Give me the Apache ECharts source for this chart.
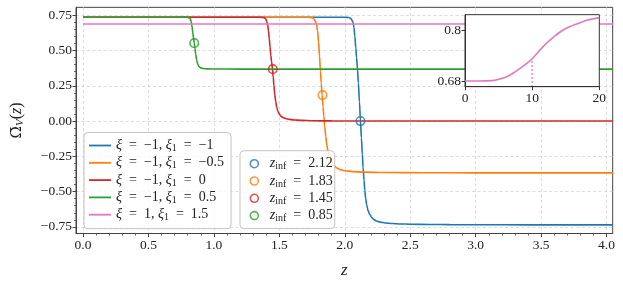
<!DOCTYPE html>
<html><head><meta charset="utf-8">
<script src="https://cdn.jsdelivr.net/npm/echarts@6/dist/echarts.min.js"></script>
<style>html,body{margin:0;padding:0;background:#fff}#c{width:623px;height:286px}</style>
</head><body><div id="c"></div>
<script>
// ---------- data ----------
const zBlue = [0, 2.00, 2.03, 2.045, 2.055, 2.063, 2.07, 2.077, 2.084, 2.09, 2.097, 2.104, 2.112, 2.12, 2.127, 2.134, 2.14, 2.147, 2.153, 2.16, 2.168, 2.178, 2.19, 2.205, 2.22, 2.242, 2.27, 2.31, 2.36, 2.43, 2.5, 2.65, 2.8, 3.2, 3.6, 4.05];
const omegaBlue = [0.736, 0.736, 0.734, 0.727, 0.716, 0.70, 0.665, 0.60, 0.52, 0.45, 0.37, 0.27, 0.135, 0.0, -0.12, -0.235, -0.33, -0.42, -0.49, -0.55, -0.595, -0.635, -0.66, -0.683, -0.697, -0.708, -0.716, -0.722, -0.726, -0.729, -0.731, -0.733, -0.734, -0.735, -0.736, -0.736];

const zOrange = [0, 1.72, 1.75, 1.765, 1.775, 1.784, 1.792, 1.80, 1.807, 1.814, 1.82, 1.827, 1.834, 1.84, 1.847, 1.855, 1.863, 1.873, 1.885, 1.90, 1.92, 1.94, 1.965, 2.0, 2.06, 2.15, 2.3, 2.6, 3.0, 4.05];
const omegaOrange = [0.736, 0.736, 0.733, 0.723, 0.708, 0.685, 0.64, 0.56, 0.46, 0.355, 0.27, 0.184, 0.10, 0.035, -0.04, -0.11, -0.17, -0.22, -0.26, -0.293, -0.318, -0.333, -0.344, -0.352, -0.358, -0.362, -0.365, -0.366, -0.367, -0.367];

const zRed = [0, 1.36, 1.385, 1.396, 1.404, 1.411, 1.417, 1.423, 1.429, 1.435, 1.441, 1.447, 1.453, 1.459, 1.465, 1.472, 1.48, 1.489, 1.499, 1.512, 1.528, 1.548, 1.575, 1.615, 1.67, 1.76, 1.9, 2.3, 4.05];
const omegaRed = [0.736, 0.736, 0.733, 0.724, 0.706, 0.68, 0.64, 0.585, 0.525, 0.465, 0.42, 0.375, 0.315, 0.25, 0.19, 0.14, 0.1, 0.07, 0.05, 0.035, 0.025, 0.018, 0.012, 0.008, 0.005, 0.002, 0.001, 0.0, 0.0];

const zGreen = [0, 0.79, 0.81, 0.82, 0.827, 0.833, 0.839, 0.845, 0.85, 0.855, 0.861, 0.868, 0.876, 0.886, 0.9, 0.92, 0.95, 1.0, 1.2, 4.05];
const omegaGreen = [0.736, 0.736, 0.733, 0.724, 0.705, 0.67, 0.625, 0.585, 0.552, 0.515, 0.475, 0.435, 0.405, 0.387, 0.377, 0.372, 0.370, 0.369, 0.368, 0.368];

const zPink = [0, 4.05];
const omegaPink = [0.688, 0.688];

const zInf = [2.12, 1.83, 1.45, 0.85];
const omegaInf = [0.0, 0.184, 0.368, 0.552];
const zInfLabels = ['2.12', '1.83', '1.45', '0.85'];

const xiLabels = ['\u22121', '\u22121', '\u22121', '\u22121', '1'];
const xi1Labels = ['\u22121', '\u22120.5', '0', '0.5', '1.5'];

const insetX = [0, 2, 4, 5.2, 6.2, 7.2, 8.2, 9.2, 10, 11, 12, 13, 14, 15, 16, 17, 18, 19, 20];
const insetY = [0.680, 0.680, 0.681, 0.685, 0.690, 0.699, 0.710, 0.722, 0.733, 0.751, 0.768, 0.782, 0.795, 0.805, 0.812, 0.818, 0.824, 0.828, 0.831];
const inflX = [10];
const inflY = [0.733];

const xMajor = [0, 0.5, 1.0, 1.5, 2.0, 2.5, 3.0, 3.5, 4.0];
const xMinor = [0.1,0.2,0.3,0.4,0.6,0.7,0.8,0.9,1.1,1.2,1.3,1.4,1.6,1.7,1.8,1.9,2.1,2.2,2.3,2.4,2.6,2.7,2.8,2.9,3.1,3.2,3.3,3.4,3.6,3.7,3.8,3.9];
const yMajor = [-0.75, -0.5, -0.25, 0, 0.25, 0.5, 0.75];
const yMinor = [-0.70,-0.65,-0.60,-0.55,-0.45,-0.40,-0.35,-0.30,-0.20,-0.15,-0.10,-0.05,0.05,0.10,0.15,0.20,0.30,0.35,0.40,0.45,0.55,0.60,0.65,0.70];
const insetXTicks = [0, 10, 20];
const insetYTicks = [0.68, 0.8];

// ---------- style ----------
const F = "'Liberation Serif', 'DejaVu Serif', serif";
const colors = ['#1f77b4', '#ff7f0e', '#d62728', '#2ca02c', '#e377c2'];
const TXT = '#222';
const mainBox = {left: 76, top: 7.33, width: 536.7, height: 226.2};
const insetBox = {left: 465, top: 14.67, width: 134.3, height: 72};
const X0 = -0.0535, X1 = 4.047, Y0 = -0.797, Y1 = 0.806;
const IY0 = 0.6665, IY1 = 0.8381;

const minus = s => s.replace('-', '\u2212');
const pairs = (xs, ys) => xs.map((x, i) => [x, ys[i]]);

const lineSets = [[zBlue, omegaBlue], [zOrange, omegaOrange], [zRed, omegaRed], [zGreen, omegaGreen], [zPink, omegaPink]];
const lineNames = xiLabels.map((xi, i) => 'xi=' + xi + ',xi1=' + xi1Labels[i]);
const infNames = zInfLabels.map(v => 'zinf=' + v);
const E = '\u2002';
const labelMap = {};
lineNames.forEach((n, i) => {
  labelMap[n] = '{i|\u03be}' + E + '=' + E + xiLabels[i] + ', {i|\u03be}{s|1}' + E + '=' + E + xi1Labels[i];
});
infNames.forEach((n, i) => {
  labelMap[n] = '{i|z}{s|inf}' + E + '=' + E + zInfLabels[i];
});
const rich = {
  i: {fontFamily: F, fontStyle: 'italic', fontSize: 14, lineHeight: 16, color: TXT},
  s: {fontFamily: F, fontSize: 10, lineHeight: 9, verticalAlign: 'bottom', color: TXT}
};

const series = [];
lineSets.forEach((d, i) => {
  series.push({
    name: lineNames[i], type: 'line', xAxisIndex: 0, yAxisIndex: 0,
    data: pairs(d[0], d[1]), showSymbol: false, symbol: 'none',
    smooth: 0.35, smoothMonotone: 'x',
    lineStyle: {color: colors[i], width: 1.6}, itemStyle: {color: colors[i]},
    z: 2, silent: true
  });
});
zInf.forEach((z, i) => {
  series.push({
    name: infNames[i], type: 'scatter', xAxisIndex: 0, yAxisIndex: 0,
    data: [[z, omegaInf[i]]], symbol: 'circle', symbolSize: 8.5,
    itemStyle: {color: 'rgba(0,0,0,0)', borderColor: colors[i], borderWidth: 1.6},
    z: 3, silent: true
  });
});
series.push({
  name: 'inset', type: 'line', xAxisIndex: 2, yAxisIndex: 2,
  data: pairs(insetX, insetY), showSymbol: false, symbol: 'none', smooth: 0.4,
  lineStyle: {color: colors[4], width: 1.6}, z: 20, silent: true
});
series.push({
  name: 'infl', type: 'line', xAxisIndex: 2, yAxisIndex: 2,
  data: [[inflX[0], IY0], [inflX[0], inflY[0]]], showSymbol: false, symbol: 'none',
  lineStyle: {color: colors[4], width: 1.6, type: [1.5, 2.5]}, z: 19, silent: true
});

const tickLabel = {fontFamily: F, fontSize: 13.5, color: TXT};

const option = {
  animation: false,
  backgroundColor: '#fff',
  grid: [
    Object.assign({show: true, borderColor: '#444', borderWidth: 1, backgroundColor: 'transparent', containLabel: false, outerBoundsMode: 'none'}, mainBox),
    Object.assign({show: false, containLabel: false, outerBoundsMode: 'none'}, mainBox),
    Object.assign({show: false, containLabel: false, outerBoundsMode: 'none'}, insetBox)
  ],
  xAxis: [
    {type: 'value', gridIndex: 0, min: X0, max: X1, position: 'bottom',
     name: 'z', nameLocation: 'middle', nameGap: 29,
     nameTextStyle: {fontFamily: F, fontStyle: 'italic', fontSize: 17, color: TXT},
     axisLine: {show: true, onZero: false, lineStyle: {color: '#444', width: 1}},
     axisTick: {show: true, length: 3.5, customValues: xMajor, lineStyle: {color: '#444', width: 1}},
     axisLabel: {show: true, customValues: xMajor, margin: 5, formatter: v => v.toFixed(1), ...tickLabel},
     splitLine: {show: true, lineStyle: {color: '#d4d4d4', width: 0.8, type: [3, 2.5]}}},
    {type: 'value', gridIndex: 1, min: X0, max: X1, position: 'bottom',
     axisLine: {show: false, onZero: false}, axisLabel: {show: false}, splitLine: {show: false},
     axisTick: {show: true, length: 2, customValues: xMinor, lineStyle: {color: '#444', width: 0.8}}},
    {type: 'value', gridIndex: 2, min: 0, max: 20, position: 'bottom', z: 20,
     axisLine: {show: true, onZero: false, lineStyle: {color: '#333', width: 1}},
     axisTick: {show: true, length: 3.5, customValues: insetXTicks, lineStyle: {color: '#333'}},
     axisLabel: {show: true, customValues: insetXTicks, margin: 5, formatter: v => String(v), ...tickLabel},
     splitLine: {show: false}}
  ],
  yAxis: [
    {type: 'value', gridIndex: 0, min: Y0, max: Y1, position: 'left',
     name: '{o|\u03a9\u0304}{s|V}{n|(}{i|z}{n|)}', nameLocation: 'middle', nameGap: 50, nameRotate: 90,
     nameTextStyle: {fontFamily: F, fontSize: 16, color: TXT, rich: {
       o: {fontFamily: "'DejaVu Serif', serif", fontSize: 15, lineHeight: 18, color: TXT},
       n: {fontFamily: F, fontSize: 16, lineHeight: 18, color: TXT},
       i: {fontFamily: F, fontStyle: 'italic', fontSize: 16, lineHeight: 18, color: TXT},
       s: {fontFamily: F, fontStyle: 'italic', fontSize: 11, lineHeight: 10, verticalAlign: 'bottom', color: TXT}
     }},
     axisLine: {show: true, onZero: false, lineStyle: {color: '#444', width: 1}},
     axisTick: {show: true, length: 3.5, customValues: yMajor, lineStyle: {color: '#444', width: 1}},
     axisLabel: {show: true, customValues: yMajor, margin: 4, formatter: v => minus(v.toFixed(2)), ...tickLabel},
     splitLine: {show: true, lineStyle: {color: '#d4d4d4', width: 0.8, type: [3, 2.5]}}},
    {type: 'value', gridIndex: 1, min: Y0, max: Y1, position: 'left',
     axisLine: {show: false, onZero: false}, axisLabel: {show: false}, splitLine: {show: false},
     axisTick: {show: true, length: 2, customValues: yMinor, lineStyle: {color: '#444', width: 0.8}}},
    {type: 'value', gridIndex: 2, min: IY0, max: IY1, position: 'left', z: 20,
     axisLine: {show: true, onZero: false, lineStyle: {color: '#333', width: 1}},
     axisTick: {show: true, length: 3.5, customValues: insetYTicks, lineStyle: {color: '#333'}},
     axisLabel: {show: true, customValues: insetYTicks, margin: 4, formatter: v => String(v), ...tickLabel},
     splitLine: {show: false}}
  ],
  graphic: [
    {type: 'rect', z: 10, silent: true,
     shape: {x: insetBox.left, y: insetBox.top, width: insetBox.width, height: insetBox.height},
     style: {fill: '#fff', stroke: '#333', lineWidth: 1}}
  ],
  legend: [
    {orient: 'vertical', left: 84, top: 132.5, data: lineNames, icon: 'rect',
     itemWidth: 22, itemHeight: 1.8, itemGap: 1.3, padding: [5, 7, 6, 5],
     backgroundColor: 'rgba(255,255,255,0.8)', borderColor: '#c4c4c4', borderWidth: 1, borderRadius: 4,
     textStyle: {fontFamily: F, fontSize: 14, lineHeight: 16, color: TXT, rich: rich},
     formatter: n => labelMap[n], selectedMode: false},
    {orient: 'vertical', left: 240, top: 150.7, data: infNames,
     itemWidth: 8, itemHeight: 8, itemGap: 1.3, padding: [5, 2, 5, 9.5],
     itemStyle: {borderWidth: 1.6},
     backgroundColor: 'rgba(255,255,255,0.8)', borderColor: '#c4c4c4', borderWidth: 1, borderRadius: 4,
     textStyle: {fontFamily: F, fontSize: 14, lineHeight: 16, color: TXT, rich: rich, padding: [0, 0, 0, 6.5]},
     formatter: n => labelMap[n], selectedMode: false}
  ],
  series: series
};

const chart = echarts.init(document.getElementById('c'), null, {renderer: 'canvas'});
chart.setOption(option);
</script>
</body></html>
